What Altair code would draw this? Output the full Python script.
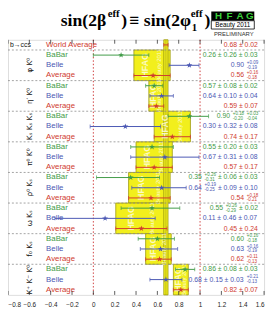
import re
import altair as alt
import pandas as pd

# ---------------- data ----------------
modes = ["φ K⁰", "η′ K⁰", "Kₛ Kₛ Kₛ", "π⁰ K⁰", "ρ⁰ Kₛ", "ω Kₛ", "f₀ Kₛ", "K⁺ K⁻ K⁰"]
experiments = ["BaBar", "Belle", "Average"]

babar_val = [0.26, 0.57, 0.90, 0.55, 0.35, 0.55, 0.60, 0.86]
babar_plus = [0.26, 0.08, 0.18, 0.20, 0.27, 0.26, 0.16, 0.09]
babar_minus = [0.26, 0.08, 0.20, 0.20, 0.32, 0.29, 0.18, 0.09]
belle_val = [0.90, 0.64, 0.30, 0.67, 0.64, 0.11, 0.63, 0.68]
belle_plus = [0.09, 0.11, 0.33, 0.32, 0.23, 0.47, 0.16, 0.15]
belle_minus = [0.19, 0.11, 0.33, 0.32, 0.28, 0.47, 0.19, 0.15]
avg_val = [0.56, 0.59, 0.74, 0.57, 0.54, 0.45, 0.62, 0.82]
avg_plus = [0.16, 0.07, 0.17, 0.17, 0.18, 0.24, 0.11, 0.07]
avg_minus = [0.18, 0.07, 0.17, 0.17, 0.21, 0.24, 0.13, 0.07]
world_val, world_err = 0.68, 0.02

babar_text = ["0.26 ± 0.26 ± 0.03", "0.57 ± 0.08 ± 0.02", "0.90 {+0.18|-0.20} {+0.03|-0.04}",
              "0.55 ± 0.20 ± 0.03", "0.35 {+0.26|-0.31} ± 0.06 ± 0.03", "0.55 {+0.26|-0.29} ± 0.02",
              "0.60 {+0.16|-0.18}", "0.86 ± 0.08 ± 0.03"]
belle_text = ["0.90 {+0.09|-0.19}", "0.64 ± 0.10 ± 0.04", "0.30 ± 0.32 ± 0.08",
              "0.67 ± 0.31 ± 0.08", "0.64 {+0.19|-0.25} ± 0.09 ± 0.10", "0.11 ± 0.46 ± 0.07",
              "0.63 {+0.16|-0.19}", "0.68 ± 0.15 ± 0.03 {+0.21|-0.13}"]
avg_text = ["0.56 {+0.16|-0.18}", "0.59 ± 0.07", "0.74 ± 0.17", "0.57 ± 0.17",
            "0.54 {+0.18|-0.21}", "0.45 ± 0.24", "0.62 {+0.11|-0.13}", "0.82 ± 0.07"]
world_text = "0.68 ± 0.02"
x_ticks = [-0.8, -0.6, -0.4, -0.2, 0, 0.2, 0.4, 0.6, 0.8, 1.0, 1.2, 1.4, 1.6]

# ---------------- layout ----------------
W, H = 262, 261
XMIN, XMAX = -0.8, 1.6
NROWS = 25
FONT = "Liberation Sans"
COL = {"BaBar": "#3f9b47", "Belle": "#4a57b3", "Average": "#cf3b2f", "World Average": "#cf3b2f"}
YELLOW = "#f2ef1c"
OLIVE = "#9c9a10"


def px2v(px):
    return XMIN + px / W * (XMAX - XMIN)


CW = {".": .278, " ": .278, "±": .584, "+": .584, "-": .333}


def tw(s, size):
    return sum(CW.get(c, .556) for c in s) * size


MAIN, SMALL = 7.0, 4.6
RIGHT_PX = 256


def layout(s):
    toks = [t for t in re.split(r"(\{[^}]*\})", s) if t]
    segs, x = [], 0.0
    for t in toks:
        if t.startswith("{"):
            sup, sub = t[1:-1].split("|")
            x += 0.8
            segs.append(("sup", sup, x))
            segs.append(("sub", sub, x))
            x += max(tw(sup, SMALL), tw(sub, SMALL))
        else:
            lead = len(t) - len(t.lstrip(" "))
            x += tw(" " * lead, MAIN)
            segs.append(("main", t.strip(), x))
            x += tw(t.lstrip(" "), MAIN)
    shift = RIGHT_PX - x
    return [(k, tt, px2v(xx + shift)) for k, tt, xx in segs]


rows = [dict(row=0, exp="World Average", val=world_val, lo=world_val - world_err,
             hi=world_val + world_err, text=world_text, group=-1)]
for g in range(len(modes)):
    for i, (e, v, p, m, t) in enumerate([
        ("BaBar", babar_val[g], babar_plus[g], babar_minus[g], babar_text[g]),
        ("Belle", belle_val[g], belle_plus[g], belle_minus[g], belle_text[g]),
        ("Average", avg_val[g], avg_plus[g], avg_minus[g], avg_text[g]),
    ]):
        rows.append(dict(row=1 + 3 * g + i, exp=e, val=v, lo=v - m, hi=v + p, text=t, group=g))
df = pd.DataFrame(rows)
df["color"] = df["exp"].map(COL)
df["labx"] = px2v(39)

segs = []
for r in rows:
    for k, t, xv in layout(r["text"]):
        segs.append(dict(row=r["row"], kind=k, text=t, x=xv, color=COL[r["exp"]]))
seg = pd.DataFrame(segs)

boxes = pd.DataFrame(dict(lo=[a - m for a, m in zip(avg_val, avg_minus)],
                          hi=[a + p for a, p in zip(avg_val, avg_plus)],
                          y0=[3 * g + 0.5 for g in range(len(modes))],
                          y1=[3 * g + 3.5 for g in range(len(modes))],
                          mid=[3 * g + 2 for g in range(len(modes))],
                          mode=modes))
boxes["wm1"] = boxes["lo"] + (boxes["hi"] - boxes["lo"]) * 0.3
boxes["wm2"] = boxes["lo"] + (boxes["hi"] - boxes["lo"]) * 0.7
boxes["modex"] = px2v(23)

seps = pd.DataFrame(dict(y=[0.5] + [3 * g + 3.5 for g in range(len(modes) - 1)]))
ticks = pd.DataFrame(dict(x=x_ticks))
refl = pd.DataFrame(dict(x=[0.0, 1.0]))
one = pd.DataFrame(dict(a=[0]))

xscale = alt.Scale(domain=[XMIN, XMAX], nice=False, zero=False)
yscale = alt.Scale(domain=[NROWS - 0.5, -0.5], nice=False, zero=False)
xaxis = alt.Axis(values=x_ticks, format="~g", title=None, ticks=False, domain=False, grid=False,
                 labelFont=FONT, labelFontSize=6.5, labelColor="#222", labelPadding=7,
                 labelFlush=True)


def X(f):
    return alt.X(f, type="quantitative", scale=xscale, axis=xaxis)


def X2(f):
    return alt.X2(f)


def Y(f):
    return alt.Y(f, type="quantitative", scale=yscale, axis=None)


layers = []
# group boxes
layers.append(alt.Chart(boxes).mark_rect(fill=YELLOW, stroke=OLIVE, strokeWidth=0.8).encode(
    x=X("lo"), x2=X2("hi"), y=Y("y0"), y2=alt.Y2("y1")))
# world average band
wb = pd.DataFrame(dict(lo=[world_val - world_err], hi=[world_val + world_err], v=[world_val]))
layers.append(alt.Chart(wb).mark_rect(fill=YELLOW, stroke=OLIVE, strokeWidth=0.8).encode(
    x=X("lo"), x2=X2("hi"), y=alt.value(0), y2=alt.value(H)))
layers.append(alt.Chart(wb).mark_rule(color=OLIVE, strokeWidth=0.6).encode(
    x=X("v"), y=alt.value(0), y2=alt.value(H)))
# watermarks
layers.append(alt.Chart(boxes).mark_text(text="HFAG", angle=270, font=FONT, fontSize=9, fontWeight="bold",
                                         color="white", opacity=0.75).encode(x=X("wm1"), y=Y("mid")))
layers.append(alt.Chart(boxes).mark_text(text="Beauty 2011", angle=270, font=FONT, fontSize=6,
                                         color="white", opacity=0.75).encode(x=X("wm2"), y=Y("mid")))
# separators
layers.append(alt.Chart(seps).mark_rule(color="#8a8a8a", strokeWidth=0.8, strokeDash=[2, 2]).encode(
    y=Y("y"), x=alt.value(0), x2=alt.value(W)))
# red reference lines
layers.append(alt.Chart(refl).mark_rule(color="#d04040", strokeWidth=1, strokeDash=[1.5, 2]).encode(
    x=X("x"), y=alt.value(0), y2=alt.value(H)))
# error bars
layers.append(alt.Chart(df).mark_rule(strokeWidth=1).encode(
    x=X("lo"), x2=X2("hi"), y=Y("row"), color=alt.Color("color:N", scale=None)))
layers.append(alt.Chart(df).mark_tick(orient="vertical", size=4, thickness=1).encode(
    x=X("lo"), y=Y("row"), color=alt.Color("color:N", scale=None)))
layers.append(alt.Chart(df).mark_tick(orient="vertical", size=4, thickness=1).encode(
    x=X("hi"), y=Y("row"), color=alt.Color("color:N", scale=None)))
STAR = "M0,-1L0.225,-0.309L0.951,-0.309L0.363,0.118L0.588,0.809L0,0.382L-0.588,0.809L-0.363,0.118L-0.951,-0.309L-0.225,-0.309Z"
layers.append(alt.Chart(df[df["row"] > 0]).mark_point(shape=STAR, filled=True, size=40, opacity=1).encode(
    x=X("val"), y=Y("row"), color=alt.Color("color:N", scale=None)))
# left labels
layers.append(alt.Chart(df).mark_text(align="left", baseline="middle", font=FONT, fontSize=8).encode(
    x=X("labx"), y=Y("row"), text="exp:N", color=alt.Color("color:N", scale=None)))
layers.append(alt.Chart(pd.DataFrame(dict(t=["b→ccs"], x=[px2v(2)], row=[0]))).mark_text(
    align="left", baseline="middle", font=FONT, fontSize=7, color="#111").encode(
    x=X("x"), y=Y("row"), text="t:N"))
layers.append(alt.Chart(boxes).mark_text(angle=270, align="center", baseline="middle", font="DejaVu Sans",
                                         fontSize=7.5, color="#111").encode(
    x=X("modex"), y=Y("mid"), text="mode:N"))
# right value texts
for kind, size, dy in [("main", MAIN, 0), ("sup", SMALL, -2.3), ("sub", SMALL, 2.6)]:
    layers.append(alt.Chart(seg[seg["kind"] == kind]).mark_text(
        align="left", baseline="middle", font=FONT, fontSize=size, dy=dy).encode(
        x=X("x"), y=Y("row"), text="text:N", color=alt.Color("color:N", scale=None)))
# inside ticks
layers.append(alt.Chart(ticks).mark_rule(color="#333", strokeWidth=0.8).encode(
    x=X("x"), y=alt.value(0), y2=alt.value(4)))
layers.append(alt.Chart(ticks).mark_rule(color="#333", strokeWidth=0.8).encode(
    x=X("x"), y=alt.value(H), y2=alt.value(H - 4)))

# title
SERIF = "Liberation Serif"
title_parts = [("sin(2β", 54, -14, 18), ("eff", 102, -23, 11), (")", 116, -14, 18),
               ("≡", 124, -14, 18), ("sin(2φ", 139, -14, 18), ("eff", 187, -23, 11),
               ("1", 188, -9, 11), (")", 201, -14, 18)]
for t, x, y, s in title_parts:
    layers.append(alt.Chart(one).mark_text(text=t, align="left", baseline="alphabetic", font=SERIF,
                                           fontSize=s, fontWeight="bold", color="black").encode(
        x=alt.value(x), y=alt.value(y)))
# HFAG logo
layers.append(alt.Chart(one).mark_rect(color="black").encode(
    x=alt.value(208), x2=alt.value(252), y=alt.value(-29), y2=alt.value(-19.5)))
for t, x in zip("HFAG", [215.5, 226.5, 237.5, 247.5]):
    layers.append(alt.Chart(one).mark_text(text=t, align="center", baseline="middle", font=FONT,
                                           fontSize=10, fontWeight="bold", color="#3ad03a").encode(
        x=alt.value(x), y=alt.value(-24)))
layers.append(alt.Chart(one).mark_rect(fill="white", stroke="black", strokeWidth=0.8).encode(
    x=alt.value(208), x2=alt.value(252), y=alt.value(-19.5), y2=alt.value(-11)))
layers.append(alt.Chart(one).mark_text(text="Beauty 2011", align="center", baseline="middle", font=FONT,
                                       fontSize=6.5, color="black").encode(
    x=alt.value(230), y=alt.value(-15)))
layers.append(alt.Chart(one).mark_text(text="PRELIMINARY", align="center", baseline="middle", font=FONT,
                                       fontSize=6, color="#333").encode(
    x=alt.value(231), y=alt.value(-6)))

chart = alt.layer(*layers).properties(
    width=W, height=H, autosize="none",
    padding={"left": 0, "top": 29, "right": 3, "bottom": 15},
).configure_view(stroke="#222", strokeWidth=1).configure(background="white")

chart.save("out.html", embed_options={"renderer": "svg", "actions": False})
